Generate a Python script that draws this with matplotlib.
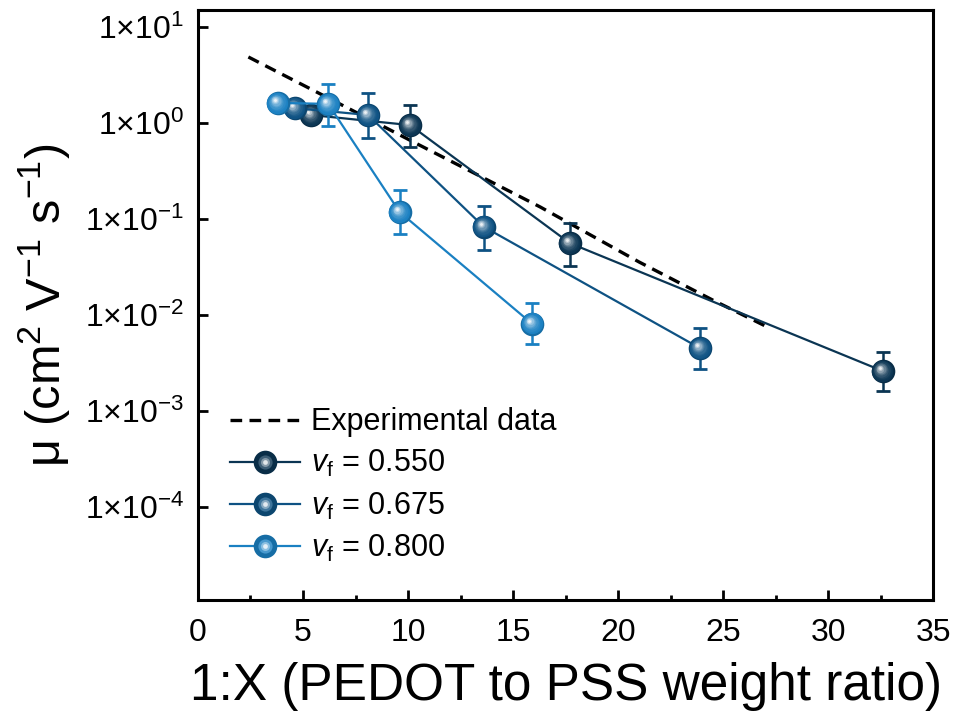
import numpy as np
import matplotlib
matplotlib.use("Agg")
import matplotlib.pyplot as plt
from matplotlib.transforms import offset_copy
from matplotlib.ticker import FixedLocator, MultipleLocator, NullLocator, FuncFormatter
from matplotlib.lines import Line2D
from matplotlib.legend_handler import HandlerTuple
from matplotlib import font_manager

# ---------------- data ----------------
exp_x = [2.4, 6.9, 10.1, 16.3, 21.0, 24.5, 27.1]
exp_y = [4.87, 1.52, 0.66, 0.133, 0.0356, 0.0143, 0.0075]

x_055 = [5.4, 10.1, 17.7, 32.6]
y_055 = [1.21, 0.95, 0.056, 0.0026]
lo_055 = [0.10, 0.39, 0.024, 0.0010]
hi_055 = [0.10, 0.59, 0.035, 0.0015]

x_0675 = [4.6, 8.1, 13.6, 23.9]
y_0675 = [1.43, 1.21, 0.083, 0.0045]
lo_0675 = [0.10, 0.51, 0.035, 0.0018]
hi_0675 = [0.10, 0.84, 0.054, 0.0028]

x_080 = [3.8, 6.2, 9.6, 15.9]
y_080 = [1.62, 1.58, 0.118, 0.0081]
lo_080 = [0.10, 0.65, 0.048, 0.0031]
hi_080 = [0.10, 0.97, 0.082, 0.0052]

labels = [r'$\it{v}_\mathrm{f}$ = 0.550', r'$\it{v}_\mathrm{f}$ = 0.675', r'$\it{v}_\mathrm{f}$ = 0.800']
colors = ['#0b3553', '#0e5283', '#1a80c2']

# ---------------- style ----------------
avail = {f.name for f in font_manager.fontManager.ttflist}
fam = 'Liberation Sans' if 'Liberation Sans' in avail else 'DejaVu Sans'
plt.rcParams['font.family'] = [fam, 'DejaVu Sans']
plt.rcParams['mathtext.fontset'] = 'custom'
plt.rcParams['mathtext.rm'] = fam
plt.rcParams['mathtext.it'] = fam + ':italic'
plt.rcParams['mathtext.bf'] = fam + ':bold'
plt.rcParams['mathtext.default'] = 'regular'

fig = plt.figure(figsize=(9.61, 7.22), dpi=100)
ax = fig.add_axes([0.206, 0.169, 0.765, 0.817])
ax.set_yscale('log')

def blend(c, f):
    rgb = np.array(matplotlib.colors.to_rgb(c))
    if f < 0:
        return tuple(rgb * (1 + f))
    return tuple(rgb + (1 - rgb) * f)

ms = 17
def sphere(x, y, c, z):
    ax.plot(x, y, 'o', ms=ms, color=blend(c, -0.15), mew=0, zorder=z)
    n = 9
    for i in range(1, n + 1):
        t = i / n
        tr = offset_copy(ax.transData, fig=fig, x=-0.13 * ms * t, y=0.13 * ms * t, units='points')
        ax.plot(x, y, 'o', ms=ms * (1 - 0.88 * t), color=blend(c, 0.92 * t ** 2.2),
                mew=0, zorder=z + 0.01 * i, transform=tr)

# experimental dashed line
ax.plot(exp_x, exp_y, color='black', lw=2.4, dashes=(3.5, 2.2), zorder=2)

series = [(x_055, y_055, lo_055, hi_055), (x_0675, y_0675, lo_0675, hi_0675), (x_080, y_080, lo_080, hi_080)]
for k, ((xs, ys, lo, hi), c) in enumerate(zip(series, colors)):
    z = 3 + k
    ax.plot(xs, ys, '-', color=c, lw=1.6, zorder=z)
    ax.errorbar(xs, ys, yerr=[lo, hi], fmt='none', ecolor=c, elinewidth=1.8,
                capsize=5, capthick=2.0, zorder=z)
    sphere(xs, ys, c, z + 0.1)

ax.set_xlim(0, 35)
ax.set_ylim(1.07e-5, 15)
ax.xaxis.set_major_locator(MultipleLocator(5))
ax.xaxis.set_minor_locator(MultipleLocator(2.5))
ax.yaxis.set_major_locator(FixedLocator([1e-4, 1e-3, 1e-2, 1e-1, 1e0, 1e1]))
ax.yaxis.set_minor_locator(NullLocator())
ax.yaxis.set_major_formatter(FuncFormatter(lambda v, p: r'1×10$^{%d}$' % int(round(np.log10(v)))))

for s in ax.spines.values():
    s.set_linewidth(2.2)
ax.tick_params(which='major', direction='in', length=7, width=2, labelsize=23)
ax.tick_params(which='minor', direction='in', length=3.6, width=2)
ax.tick_params(axis='x', which='major', pad=13)
ax.tick_params(axis='y', which='major', pad=10)

ax.set_xlabel('1:X (PEDOT to PSS weight ratio)', fontsize=37, labelpad=10)
ax.set_ylabel(r'μ (cm$^2$ V$^{-1}$ s$^{-1}$)', fontsize=35, labelpad=9)

# legend
h_exp = Line2D([], [], color='black', lw=2.4, dashes=(3.5, 2.2))
handles = [h_exp]
for c in colors:
    base = Line2D([], [], color=c, lw=1.6, marker='o', ms=ms, mew=0, mfc=blend(c, -0.15))
    hl1 = Line2D([], [], ls='none', marker='o', ms=ms * 0.6, mew=0, mfc=blend(c, 0.2))
    hl2 = Line2D([], [], ls='none', marker='o', ms=ms * 0.38, mew=0, mfc=blend(c, 0.5))
    hl3 = Line2D([], [], ls='none', marker='o', ms=ms * 0.2, mew=0, mfc=blend(c, 0.88))
    handles.append((base, hl1, hl2, hl3))
ax.legend(handles, ['Experimental data'] + labels,
          handler_map={tuple: HandlerTuple(ndivide=1, pad=0)},
          loc='upper left', bbox_to_anchor=(0.035, 0.337), frameon=False, fontsize=22,
          handlelength=2.3, handletextpad=0.35, labelspacing=0.36, borderpad=0.2, borderaxespad=0)

fig.savefig('out.png', dpi=100)
